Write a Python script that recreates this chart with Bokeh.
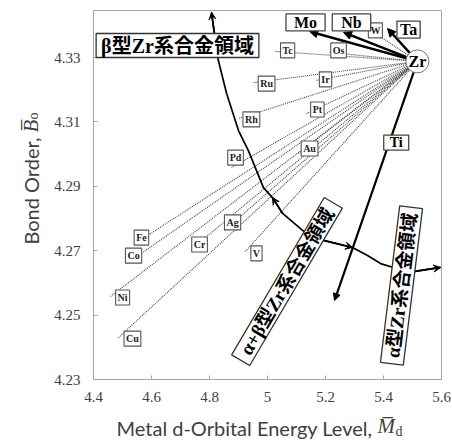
import math
from bokeh.plotting import figure
from bokeh.models import ColumnDataSource, Arrow, NormalHead, VeeHead, FixedTicker, Range1d
from bokeh.core.properties import value
from bokeh.embed import file_html
from bokeh.resources import INLINE

# ---------------- data ----------------
dotted_elements = ["Tc", "Os", "W", "Ru", "Ir", "Rh", "Pt", "Pd", "Au", "Ag", "V", "Cr", "Fe", "Co", "Ni", "Cu"]
dotted_md = [5.028, 5.214, 5.372, 4.952, 5.169, 4.903, 5.134, 4.876, 5.107, 4.852, 4.924, 4.745, 4.548, 4.514, 4.459, 4.486]
dotted_bo = [4.3319, 4.3316, 4.3375, 4.3222, 4.3229, 4.3111, 4.3126, 4.2958, 4.3002, 4.2763, 4.2698, 4.2710, 4.2725, 4.2660, 4.2558, 4.2430]

zr_md = 5.517
zr_bo = 4.3288

vector_elements = ["Mo", "Nb", "Ta"]
vector_md = [5.145, 5.262, 5.414]
vector_bo = [4.3381, 4.3378, 4.3390]

ti_md = 5.231
ti_bo = 4.2545

boundary_md = [4.807, 4.828, 4.859, 4.900, 4.934, 4.986, 5.017, 5.052, 5.121, 5.193, 5.293, 5.345, 5.390, 5.434, 5.503, 5.597]
boundary_bo = [4.3440, 4.3300, 4.3188, 4.3073, 4.3011, 4.2896, 4.2865, 4.2816, 4.2763, 4.2732, 4.2710, 4.2685, 4.2660, 4.2648, 4.2635, 4.2648]

x_ticks = [4.4, 4.6, 4.8, 5.0, 5.2, 5.4, 5.6]
y_ticks = [4.23, 4.25, 4.27, 4.29, 4.31, 4.33]

region_texts = ["β型Zr系合金領域", "α+β型Zr系合金領域", "α型Zr系合金領域"]

# ---------------- layout / style ----------------
SERIF = "Liberation Serif"
SANS = "Lato"
JP = "'Liberation Serif', 'Noto Sans CJK JP'"
AXIS_GRAY = "#a6a6a6"
TEXT_GRAY = "#404040"

# label offsets in pixels (x right, y down)
dotted_xo = [12, 9, 0, 13, 9, 12, 11, 4, 11, 8, 11, 6, 5, 7, 12, 14]
dotted_yo = [-1, -2, -3, 1, -1, 1, -4, -10, -5, -8, 2, -3, -5, -8, 1, 1]
vector_xo = [-4, 8, 21]
vector_yo = [-9, -10, 1]
vector_pad = [8, 9, 3]

def fx(px):
    return 4.4 + (px - 93) / 290.0

def fy(py):
    return 4.23 + (379 - py) / 3220.0

p = figure(width=452, height=440,
           x_range=Range1d(4.4, 5.6), y_range=Range1d(4.23, 4.3446),
           output_backend="svg", toolbar_location=None,
           min_border_left=93, min_border_right=11, min_border_top=10, min_border_bottom=61)
p.background_fill_color = "white"
p.border_fill_color = "white"
p.outline_line_color = AXIS_GRAY
p.outline_line_width = 1
p.xgrid.visible = False
p.ygrid.visible = False

p.xaxis.ticker = FixedTicker(ticks=x_ticks)
p.yaxis.ticker = FixedTicker(ticks=y_ticks)
p.xaxis.major_label_overrides = {5.0: "5"}
for ax in (p.xaxis, p.yaxis):
    ax.axis_line_color = AXIS_GRAY
    ax.major_tick_line_color = AXIS_GRAY
    ax.major_tick_in = 4
    ax.major_tick_out = 0
    ax.minor_tick_line_color = None
    ax.major_label_text_font = SERIF
    ax.major_label_text_font_size = "15px"
    ax.major_label_text_color = TEXT_GRAY
p.xaxis.major_label_standoff = 12
p.yaxis.major_label_standoff = 13

# dotted lines from each element to Zr
src_el = ColumnDataSource(dict(x=dotted_md, y=dotted_bo, text=dotted_elements,
                               xo=dotted_xo, yo=dotted_yo))
p.segment(x0="x", y0="y", x1=zr_md, y1=zr_bo, source=src_el,
          line_color="#444444", line_width=1.1, line_dash="1 1")

# phase boundary curve
p.line(boundary_md, boundary_bo, line_color="black", line_width=1.7)
for a, b in [(1, 0), (7, 6), (9, 10), (14, 15)]:
    p.add_layout(Arrow(end=VeeHead(size=7, fill_color="black", line_color="black", line_width=1),
                       x_start=boundary_md[a], y_start=boundary_bo[a],
                       x_end=boundary_md[b], y_end=boundary_bo[b],
                       line_color="black", line_width=1.7))

# vectors Zr -> Mo, Nb, Ta
src_vec = ColumnDataSource(dict(x0=[zr_md] * len(vector_md), y0=[zr_bo] * len(vector_bo),
                                x1=vector_md, y1=vector_bo))
p.add_layout(Arrow(end=NormalHead(size=8, fill_color="black", line_color="black", line_width=1),
                   x_start="x0", y_start="y0", x_end="x1", y_end="y1", source=src_vec,
                   line_color="black", line_width=2.5))
# vector Zr -> Ti
p.add_layout(Arrow(end=NormalHead(size=7, fill_color="black", line_color="black", line_width=1),
                   x_start=zr_md, y_start=zr_bo, x_end=ti_md, y_end=ti_bo,
                   line_color="black", line_width=2.2))

# element labels
p.text(x="x", y="y", text="text", x_offset="xo", y_offset="yo", source=src_el,
       text_font=value(SERIF), text_font_style="bold", text_font_size="10px",
       text_align="center", text_baseline="middle", text_color="#222222",
       background_fill_color="white", border_line_color="#555555", border_line_width=1.1,
       padding=2, level="overlay")

for i in range(len(vector_elements)):
    p.text(x=[vector_md[i]], y=[vector_bo[i]], text=[vector_elements[i]],
           x_offset=vector_xo[i], y_offset=vector_yo[i],
           text_font=value(SERIF), text_font_style="bold", text_font_size="16px",
           text_align="center", text_baseline="middle", text_color="black",
           background_fill_color="white", border_line_color="#444444", border_line_width=1.3,
           padding=dict(left=vector_pad[i], right=vector_pad[i], top=0, bottom=0), level="overlay")

# Ti label on its arrow
t = 0.34
p.text(x=[zr_md + t * (ti_md - zr_md)], y=[zr_bo + t * (ti_bo - zr_bo)], text=["Ti"],
       x_offset=7, y_offset=0,
       text_font=value(SERIF), text_font_style="bold", text_font_size="14px",
       text_align="center", text_baseline="middle", text_color="black",
       background_fill_color="white", border_line_color="#444444", border_line_width=1.3,
       padding=dict(left=6, right=6, top=0, bottom=0), level="overlay")

# region labels
region_x = [fx(177), fx(286.5), fx(401)]
region_y = [fy(45), fy(281), fy(285)]
region_angle = [0.0, math.radians(59.5), math.radians(83)]
region_size = ["20px", "19px", "19px"]
region_pad = [(5, 1), (8, 0), (6, 1)]
for i in range(3):
    p.text(x=[region_x[i]], y=[region_y[i]], text=[region_texts[i]], angle=region_angle[i],
           text_font=value(JP), text_font_style="bold", text_font_size=region_size[i],
           text_align="center", text_baseline="middle", text_color="black",
           background_fill_color="white", border_line_color="#333333", border_line_width=1.3,
           padding=dict(left=region_pad[i][0], right=region_pad[i][0],
                        top=region_pad[i][1], bottom=region_pad[i][1]), level="overlay")

# Zr
p.scatter(x=[zr_md], y=[zr_bo], marker="circle", size=23, fill_color="white",
          line_color="#777777", line_width=1, level="overlay")
p.text(x=[zr_md], y=[zr_bo], text=["Zr"], text_font=value(SERIF), text_font_style="bold",
       text_font_size="16px", text_align="center", text_baseline="middle", text_color="black",
       level="overlay")

# axis titles (drawn as overlay text so the sub/overscripts can be placed)
def title_text(px, py, s, font, size, style="normal", align="left", angle=0.0, baseline="alphabetic"):
    p.text(x=[fx(px)], y=[fy(py)], text=[s], angle=angle,
           text_font=value(font), text_font_size=size, text_font_style=style,
           text_align=align, text_baseline=baseline, text_color=TEXT_GRAY, level="overlay")

title_text(372, 416, "Metal d-Orbital Energy Level,", SANS, "20px", align="right", baseline="top")
title_text(377, 414, "M\u0305", SERIF, "21px", style="italic", baseline="top")
title_text(395, 424, "d", SERIF, "14px", baseline="top")

title_text(30, 137, "Bond Order,", SANS, "20px", align="right", angle=math.pi / 2)
title_text(30, 132, "B\u0305", SERIF, "21px", style="italic", angle=math.pi / 2)
title_text(33, 119, "o", SERIF, "14px", angle=math.pi / 2)

open("out.html", "w").write(file_html(p, INLINE))
